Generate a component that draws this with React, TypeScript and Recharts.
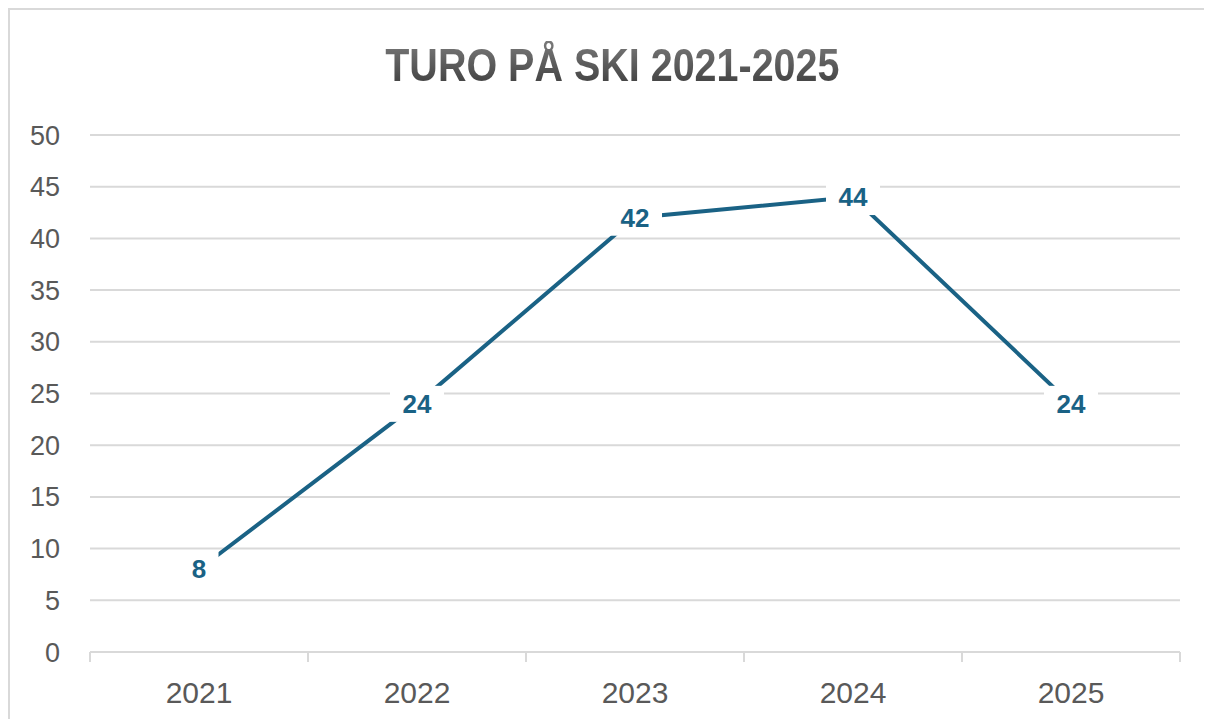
import React from 'react';
import { ComposedChart, Line, XAxis, YAxis, CartesianGrid, LabelList } from 'recharts';

const title = 'TURO PÅ SKI 2021-2025';
const years = ['2021', '2022', '2023', '2024', '2025'];
const turer = [8, 24, 42, 44, 24];
const yTicks = [0, 5, 10, 15, 20, 25, 30, 35, 40, 45, 50];
const boundaryTicks = [0, 1, 2, 3, 4, 5];

const data = years.map((year, i) => ({ year, turer: turer[i], pos: i + 0.5 }));

const LINE = '#1A6285';
const GRID = '#d9d9d9';
const TEXT = '#595959';
const FONT = '"Liberation Sans", Arial, sans-serif';

const DataLabel = (props: any) => {
  const { x, y, value } = props;
  const w = String(value).length * 15 + 24;
  return (
    <g>
      <rect x={x - w / 2} y={y - 18} width={w} height={36} fill="#ffffff" />
      <text
        x={x}
        y={y}
        textAnchor="middle"
        dominantBaseline="central"
        fill={LINE}
        fontSize={26}
        fontWeight={700}
        fontFamily={FONT}
      >
        {value}
      </text>
    </g>
  );
};

const EmptyTick = () => <g />;

export default function App() {
  return (
    <div
      style={{
        position: 'relative',
        width: 1202,
        height: 709,
        overflow: 'hidden',
        borderLeft: `2px solid ${GRID}`,
        borderTop: `2px solid ${GRID}`,
        background: '#fff',
      }}
    >
      <style>{'html,body{overflow:hidden;}'}</style>
      <div
        style={{
          position: 'absolute',
          left: 0,
          top: 31,
          width: 1204,
          textAlign: 'center',
          fontFamily: FONT,
          fontWeight: 700,
          fontSize: 47,
          lineHeight: 1,
        }}
      >
        <span
          style={{
            display: 'inline-block',
            transform: 'scaleX(0.84)',
            background: 'linear-gradient(#7a7a7a, #3d3d3d)',
            WebkitBackgroundClip: 'text',
            backgroundClip: 'text',
            color: 'transparent',
          }}
        >
          {title}
        </span>
      </div>
      <ComposedChart
        width={1202}
        height={709}
        data={data}
        margin={{ top: 125, right: 32, left: 0, bottom: 17 }}
      >
        <CartesianGrid
          horizontal
          vertical={false}
          stroke={GRID}
          strokeWidth={2}
          xAxisId="c"
        />
        <XAxis
          xAxisId="b"
          dataKey="pos"
          type="number"
          domain={[0, 5]}
          ticks={boundaryTicks}
          interval={0}
          allowDataOverflow
          tick={<EmptyTick />}
          tickSize={10}
          tickLine={{ stroke: GRID, strokeWidth: 2 }}
          axisLine={{ stroke: GRID, strokeWidth: 2 }}
          height={2}
        />
        <XAxis
          xAxisId="c"
          dataKey="year"
          type="category"
          scale="band"
          axisLine={false}
          tickLine={false}
          tickMargin={22}
          height={48}
          tick={{ fill: TEXT, fontSize: 30, fontFamily: FONT }}
        />
        <YAxis
          domain={[0, 50]}
          ticks={yTicks}
          interval={0}
          axisLine={false}
          tickLine={false}
          tickMargin={24}
          width={80}
          tick={{ fill: TEXT, fontSize: 27, fontFamily: FONT }}
        />
        <Line
          xAxisId="c"
          dataKey="turer"
          stroke={LINE}
          strokeWidth={4}
          dot={false}
          isAnimationActive={false}
        >
          <LabelList dataKey="turer" content={<DataLabel />} />
        </Line>
      </ComposedChart>
    </div>
  );
}
